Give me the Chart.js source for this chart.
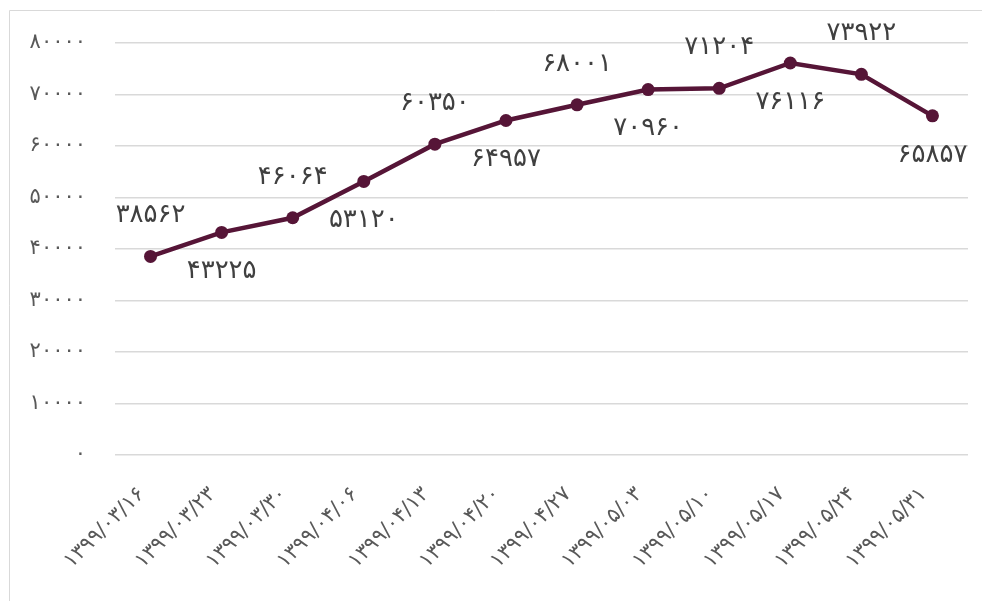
<!DOCTYPE html>
<html>
<head>
<meta charset="utf-8">
<script src="https://cdn.jsdelivr.net/npm/chart.js@4/dist/chart.umd.min.js"></script>
<style>
  html, body { margin: 0; padding: 0; background: #ffffff; }
  #wrap { width: 982px; height: 601px; position: relative; }
</style>
</head>
<body>
<div id="wrap"><canvas id="c"></canvas></div>
<script>
// ---- data ----
const categories = [
  '۱۳۹۹/۰۳/۱۶', '۱۳۹۹/۰۳/۲۳', '۱۳۹۹/۰۳/۳۰', '۱۳۹۹/۰۴/۰۶',
  '۱۳۹۹/۰۴/۱۳', '۱۳۹۹/۰۴/۲۰', '۱۳۹۹/۰۴/۲۷', '۱۳۹۹/۰۵/۰۳',
  '۱۳۹۹/۰۵/۱۰', '۱۳۹۹/۰۵/۱۷', '۱۳۹۹/۰۵/۲۴', '۱۳۹۹/۰۵/۳۱'
];
const values = [38562, 43225, 46064, 53120, 60350, 64957, 68001, 70960, 71204, 76116, 73922, 65857];
const yTicks = [0, 10000, 20000, 30000, 40000, 50000, 60000, 70000, 80000];

const FONT = "'DejaVu Sans', sans-serif";
const toFa = n => String(n).replace(/\d/g, d => '۰۱۲۳۴۵۶۷۸۹'[d]);

const borderPlugin = {
  id: 'outerBorder',
  beforeDraw(chart) {
    const ctx = chart.ctx;
    ctx.save();
    ctx.strokeStyle = '#d9d9d9';
    ctx.lineWidth = 1;
    ctx.beginPath();
    ctx.moveTo(9.5, 601);
    ctx.lineTo(9.5, 10.5);
    ctx.lineTo(982, 10.5);
    ctx.stroke();
    ctx.restore();
  }
};

const labelPlugin = {
  id: 'pointLabels',
  afterDatasetsDraw(chart) {
    const ctx = chart.ctx;
    const meta = chart.getDatasetMeta(0);
    ctx.save();
    ctx.font = '26px ' + FONT;
    ctx.fillStyle = '#404040';
    ctx.textAlign = 'center';
    ctx.textBaseline = 'middle';
    meta.data.forEach((pt, i) => {
      const above = i % 2 === 0;
      const y = above ? pt.y - 41 : pt.y + 39;
      ctx.fillText(toFa(values[i]), pt.x, y);
    });
    ctx.restore();
  }
};

new Chart(document.getElementById('c'), {
  type: 'line',
  data: {
    labels: categories,
    datasets: [{
      data: values,
      borderColor: '#561537',
      backgroundColor: '#561537',
      borderWidth: 4.5,
      pointRadius: 6.5,
      pointHoverRadius: 6.5,
      pointBackgroundColor: '#561537',
      pointBorderWidth: 0,
      tension: 0,
      fill: false
    }]
  },
  options: {
    responsive: true,
    maintainAspectRatio: false,
    animation: false,
    events: [],
    layout: { padding: { top: 43, right: 14, bottom: 0, left: 0 } },
    plugins: { legend: { display: false }, tooltip: { enabled: false } },
    scales: {
      x: {
        offset: true,
        grid: { display: false, drawTicks: false },
        border: { display: false },
        ticks: {
          autoSkip: false,
          maxRotation: 45,
          minRotation: 45,
          padding: 27,
          labelOffset: -9,
          color: '#595959',
          font: { family: FONT, size: 21 }
        },
        afterFit(scale) { scale.height = 146; }
      },
      y: {
        min: 0,
        max: 80000,
        afterBuildTicks(scale) { scale.ticks = yTicks.map(v => ({ value: v })); },
        grid: { color: '#d9d9d9', lineWidth: 1.5, drawTicks: false },
        border: { display: false },
        ticks: {
          padding: 29,
          color: '#595959',
          font: { family: FONT, size: 21 },
          callback: v => toFa(v)
        },
        afterFit(scale) { scale.width = 115; }
      }
    }
  },
  plugins: [borderPlugin, labelPlugin]
});
</script>
</body>
</html>
